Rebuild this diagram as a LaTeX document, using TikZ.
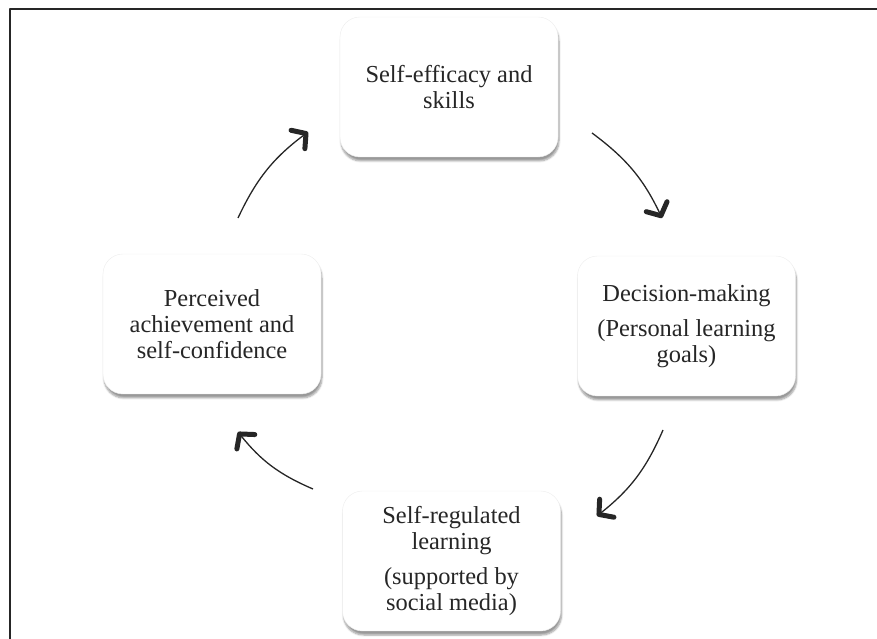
\documentclass[tikz,border=0pt]{standalone}
\usepackage{fontspec}
\setmainfont{Liberation Serif}
\usetikzlibrary{arrows.meta,shadows.blur}
\tikzset{
  cyclebox/.style={draw=black!7,fill=white,rounded corners=20bp,
    minimum width=218bp,minimum height=140bp,align=center,
    font=\fontsize{24.5}{26}\selectfont,text=black!85,
    blur shadow={shadow xshift=1bp,shadow yshift=-4bp,shadow blur steps=6,shadow opacity=40}},
  cyclearrow/.style={black!85,line width=1.3bp,
    -{Straight Barb[length=10bp,width=23bp,line width=5bp,round]}},
}
\begin{document}
\begin{tikzpicture}[>=latex,line join=bevel,]
\useasboundingbox (0bp,0bp) rectangle (877bp,639bp);
%% frame
\draw [black!85,line width=2.2bp] (10bp,0bp) -- (10bp,630bp) -- (877bp,630bp);
%%
\node (node_0) at (449.0bp,552.0bp) [cyclebox] {Self-efficacy and\\skills};
  \node (node_1) at (686.5bp,313.0bp) [cyclebox] {Decision-making\\[9bp](Personal learning\\goals)};
  \node (node_2) at (451.5bp,78.0bp) [cyclebox] {Self-regulated\\learning\\[9bp](supported by\\social media)};
  \node (node_3) at (212.0bp,315.0bp) [cyclebox] {Perceived\\achievement and\\self-confidence};
%
\coordinate (a_0) at (592.0bp,506.0bp);
  \coordinate (b_0) at (662.0bp,421.0bp);
  \coordinate (a_1) at (663.0bp,209.0bp);
  \coordinate (b_1) at (597.0bp,123.0bp);
  \coordinate (a_2) at (313.0bp,150.0bp);
  \coordinate (b_2) at (238.0bp,207.0bp);
  \coordinate (a_3) at (238.0bp,421.0bp);
  \coordinate (b_3) at (308.0bp,507.0bp);
%
\draw [cyclearrow] (a_0) to[bend left=14] (b_0);
  \draw [cyclearrow] (a_1) to[bend left=14] (b_1);
  \draw [cyclearrow] (a_2) to[bend left=14] (b_2);
  \draw [cyclearrow] (a_3) to[bend left=14] (b_3);
%
\end{tikzpicture}
\end{document}
